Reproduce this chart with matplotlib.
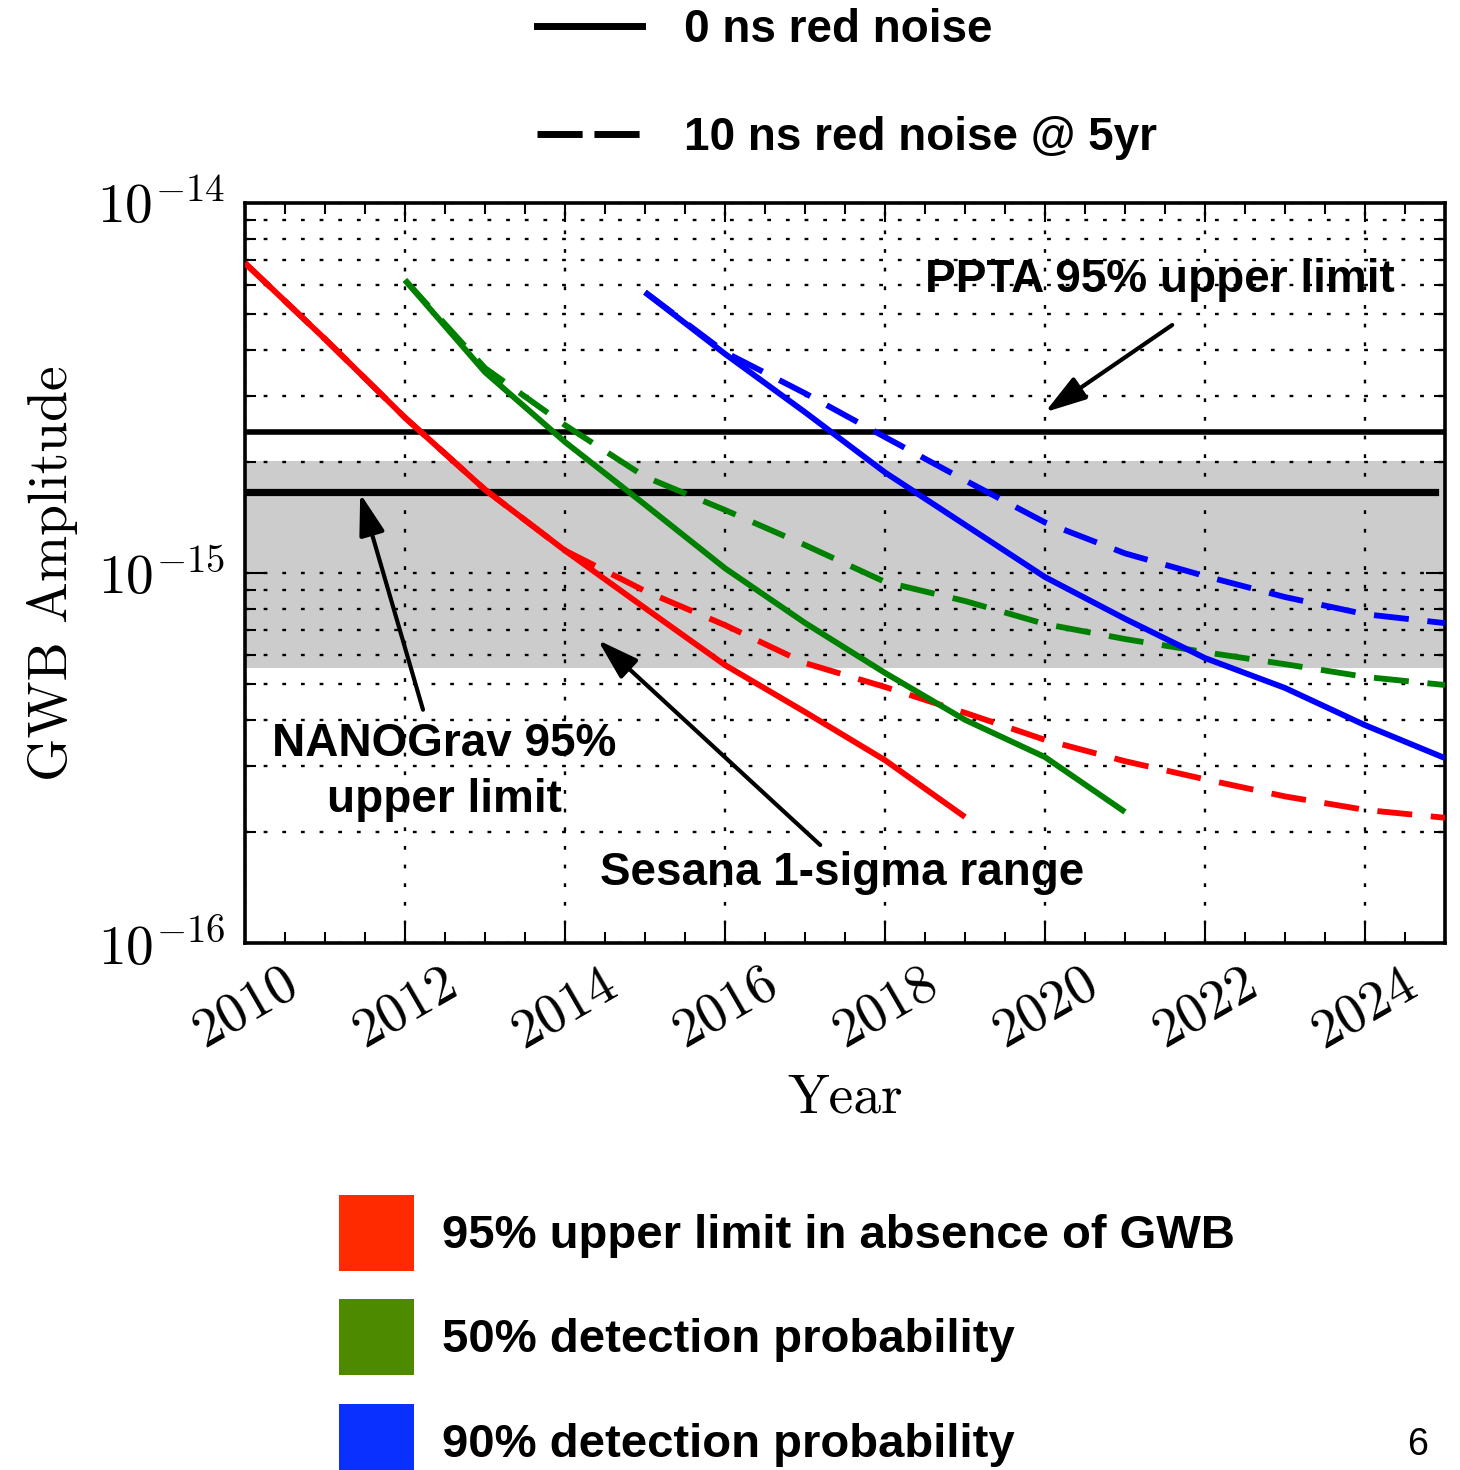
import matplotlib
matplotlib.use("Agg")
import matplotlib.pyplot as plt
from matplotlib.lines import Line2D
from matplotlib.patches import Patch
from matplotlib.ticker import FixedLocator, FixedFormatter, MultipleLocator, LogLocator, NullFormatter

plt.rcParams['mathtext.fontset'] = 'cm'
plt.rcParams['font.family'] = ['Liberation Sans', 'DejaVu Sans']

# ---------------- data ----------------
years_red = [2010, 2011, 2012, 2013, 2014, 2015, 2016, 2017, 2018, 2019]
red_solid = [6.88e-15, 4.29e-15, 2.63e-15, 1.68e-15, 1.15e-15, 8.04e-16, 5.64e-16, 4.21e-16, 3.12e-16, 2.19e-16]
years_red_d = list(range(2010, 2026))
red_dash = [6.88e-15, 4.29e-15, 2.63e-15, 1.68e-15, 1.15e-15, 8.94e-16, 7.23e-16, 5.71e-16,
            4.92e-16, 4.19e-16, 3.54e-16, 3.10e-16, 2.77e-16, 2.49e-16, 2.29e-16, 2.18e-16]

years_green = list(range(2012, 2022))
green_solid = [6.19e-15, 3.49e-15, 2.26e-15, 1.53e-15, 1.03e-15, 7.33e-16, 5.37e-16, 4.01e-16, 3.18e-16, 2.26e-16]
years_green_d = list(range(2012, 2026))
green_dash = [6.19e-15, 3.58e-15, 2.51e-15, 1.82e-15, 1.48e-15, 1.19e-15, 9.46e-16, 8.40e-16,
              7.28e-16, 6.63e-16, 6.11e-16, 5.67e-16, 5.24e-16, 4.98e-16]

years_blue = list(range(2015, 2026))
blue_solid = [5.74e-15, 3.91e-15, 2.72e-15, 1.87e-15, 1.35e-15, 9.75e-16, 7.52e-16, 5.89e-16, 4.89e-16, 3.88e-16, 3.16e-16]
blue_dash = [5.74e-15, 3.95e-15, 3.06e-15, 2.33e-15, 1.78e-15, 1.37e-15, 1.13e-15, 9.81e-16, 8.61e-16, 7.74e-16, 7.32e-16]

ppta_limit = 2.40e-15
nanograv_limit = 1.66e-15
nanograv_xend = 2024.875
sesana_range = [5.53e-16, 2.01e-15]

xticks = [2010, 2012, 2014, 2016, 2018, 2020, 2022, 2024]
xticklabels = ['$%d$' % t for t in xticks]
yticks = [1e-16, 1e-15, 1e-14]
yticklabels = ['$10^{-16}$', '$10^{-15}$', '$10^{-14}$']

legend_lines = ['0 ns red noise', '10 ns red noise @ 5yr']
legend_patches = ['95% upper limit in absence of GWB', '50% detection probability', '90% detection probability']
patch_colors = ['#ff2a00', '#4e8a00', '#0a30ff']

# ---------------- figure ----------------
W, H = 1460, 1470
fig = plt.figure(figsize=(W / 100, H / 100), dpi=100)
ax = fig.add_axes([245 / W, 1 - 943 / H, 1200 / W, 740 / H])
ax.set_xlim(2010, 2025)
ax.set_yscale('log')
ax.set_ylim(1e-16, 1e-14)

ax.axhspan(sesana_range[0], sesana_range[1], color='#cccccc', lw=0, zorder=0.5)

lw = 4.2
dash = (6, 3.2)
ax.plot(years_red, red_solid, color='red', lw=lw, solid_capstyle='butt', zorder=3)
ax.plot(years_red_d, red_dash, color='red', lw=lw, dashes=dash, zorder=3)
ax.plot(years_green, green_solid, color='green', lw=lw, solid_capstyle='butt', zorder=3)
ax.plot(years_green_d, green_dash, color='green', lw=lw, dashes=dash, zorder=3)
ax.plot(years_blue, blue_solid, color='blue', lw=lw, solid_capstyle='butt', zorder=3)
ax.plot(years_blue, blue_dash, color='blue', lw=lw, dashes=dash, zorder=3)

ax.plot([2010, 2025], [ppta_limit, ppta_limit], color='black', lw=4.0, zorder=2.5)
ax.plot([2010, nanograv_xend], [nanograv_limit, nanograv_limit], color='black', lw=5.2, zorder=2.5)

# ticks
ax.xaxis.set_major_locator(FixedLocator(xticks))
ax.xaxis.set_major_formatter(FixedFormatter(xticklabels))
ax.xaxis.set_minor_locator(MultipleLocator(0.5))
ax.yaxis.set_major_locator(FixedLocator(yticks))
ax.yaxis.set_major_formatter(FixedFormatter(yticklabels))
ax.yaxis.set_minor_locator(LogLocator(base=10, subs=range(2, 10), numticks=20))
ax.yaxis.set_minor_formatter(NullFormatter())

ax.tick_params(which='both', direction='in', top=True, right=True, width=1.5)
ax.tick_params(which='major', length=14)
ax.tick_params(which='minor', length=8)
ax.tick_params(axis='x', which='major', labelsize=40, pad=12, labelrotation=30)
ax.tick_params(axis='y', which='major', labelsize=40, pad=14)
for lab in ax.get_xticklabels():
    lab.set_ha('center')

grid_style = dict(color='black', lw=1.7, linestyle=(0, (1.6, 6.3)))
ax.grid(True, which='major', axis='x', **grid_style)
ax.grid(True, which='both', axis='y', **grid_style)

for sp in ax.spines.values():
    sp.set_linewidth(2.6)

ax.set_xlabel('Year', fontsize=40, family='cmr10', labelpad=10)
ax.set_ylabel('GWB Amplitude', fontsize=40, family='cmr10', labelpad=14)

# annotations
txt = dict(fontsize=33, fontweight='bold', color='black', zorder=6)
arr = dict(arrowstyle='-|>,head_length=0.9,head_width=0.28', lw=3, color='black',
           mutation_scale=28, shrinkA=0, shrinkB=0)
ax.text(2021.44, 6.19e-15, 'PPTA 95% upper limit', ha='center', va='center', **txt)
ax.annotate('', xy=(2020.0, 2.72e-15), xytext=(2021.59, 4.68e-15), arrowprops=arr, zorder=6)
ax.text(2012.49, 2.90e-16, 'NANOGrav 95%\nupper limit', ha='center', va='center',
        linespacing=1.35, **txt)
ax.annotate('', xy=(2011.44, 1.64e-15), xytext=(2012.225, 4.27e-16), arrowprops=arr, zorder=6)
ax.text(2017.46, 1.55e-16, 'Sesana 1-sigma range', ha='center', va='center', **txt)
ax.annotate('', xy=(2014.41, 6.59e-16), xytext=(2017.19, 1.84e-16), arrowprops=arr, zorder=6)

# top legend (line styles)
h_lines = [Line2D([], [], color='black', lw=5),
           Line2D([], [], color='black', lw=5, dashes=(6.5, 1.7))]
leg1 = fig.legend(h_lines, legend_lines, loc='upper left', bbox_to_anchor=(537 / W, 1 - 8 / H),
                  frameon=False, prop=dict(family='Liberation Sans', weight='bold', size=33),
                  handlelength=2.3, handletextpad=0.9, labelspacing=1.4, borderpad=0, borderaxespad=0)

# bottom legend (colors)
h_patches = [Patch(facecolor=c, edgecolor='none') for c in patch_colors]
leg2 = fig.legend(h_patches, legend_patches, loc='upper left', bbox_to_anchor=(339 / W, 1 - 1195 / H),
                  frameon=False, prop=dict(family='Liberation Sans', weight='bold', size=34),
                  handlelength=1.58, handleheight=2.1, handletextpad=0.6, labelspacing=0.6,
                  borderpad=0, borderaxespad=0)

fig.text(1418 / W, 1 - 1445 / H, '6', fontsize=27, ha='center', va='center')

fig.savefig('out.png', dpi=100)
